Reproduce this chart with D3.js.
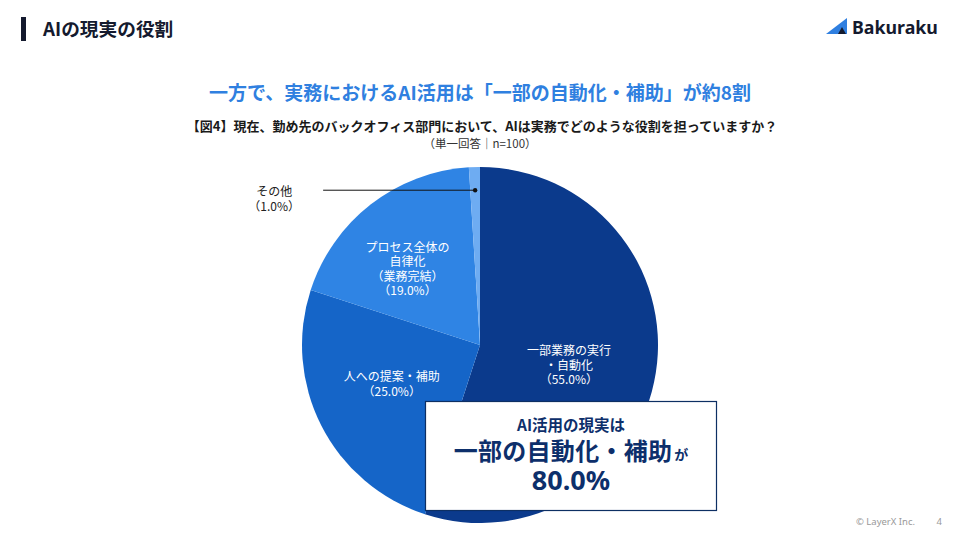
<!DOCTYPE html>
<html><head><meta charset="utf-8">
<script src="https://cdn.jsdelivr.net/npm/d3@7"></script>
<style>
html,body{margin:0;padding:0;background:#fff;}
svg{display:block;font-family:"Noto Sans CJK JP","Noto Sans",sans-serif;}
</style></head>
<body>
<svg id="c" width="960" height="540"></svg>
<script>
// ---- data ----
const categories = ["一部業務の実行・自動化", "人への提案・補助", "プロセス全体の自律化（業務完結）", "その他"];
const values = [55.0, 25.0, 19.0, 1.0];
const labelLines = [
  ["一部業務の実行", "・自動化"],
  ["人への提案・補助"],
  ["プロセス全体の", "自律化", "（業務完結）"],
  ["その他"]
];
const pageTitle = "AIの現実の役割";
const headline = "一方で、実務におけるAI活用は「一部の自動化・補助」が約8割";
const question = "【図4】現在、勤め先のバックオフィス部門において、AIは実務でどのような役割を担っていますか？";
const note = "（単一回答｜n=100）";
const calloutLine1 = "AI活用の現実は";
const calloutMain = "一部の自動化・補助";
const calloutSuffix = "が";
const calloutValue = "80.0%";

// ---- styles / layout ----
const colors = ["#0b3a8c", "#1565c8", "#2f84e4", "#6eacf2"];
const labelOffsets = [[1, 7], [-9, -1], [-18, -5], [0, 0]];
const lineHeights = [14.5, 14.5, 14.5, 15];
const svg = d3.select("#c");
const cx = 480, cy = 345, R = 178;

// header
svg.append("rect").attr("x", 21).attr("y", 17).attr("width", 5).attr("height", 24).attr("fill", "#141a2e");
svg.append("text").attr("x", 43).attr("y", 36).attr("font-size", 18.7).attr("font-weight", 700)
  .attr("fill", "#141a2e").text(pageTitle);

// logo
const logo = svg.append("g");
logo.append("path").attr("d", "M826,34 L847,18 L847,34 Z").attr("fill", "#2f7fe0");
logo.append("path").attr("d", "M838,34 L842,27 L846,34 Z").attr("fill", "#141a2e");
logo.append("text").attr("x", 852).attr("y", 34).attr("font-size", 17.8).attr("font-weight", 700)
  .attr("font-family", "'Noto Sans',sans-serif").attr("fill", "#141a2e").text("Bakuraku");

// titles
svg.append("text").attr("x", 480).attr("y", 100).attr("text-anchor", "middle").attr("font-size", 19)
  .attr("font-weight", 700).attr("fill", "#2f80e0").text(headline);
svg.append("text").attr("x", 482).attr("y", 131).attr("text-anchor", "middle").attr("font-size", 13)
  .attr("font-weight", 700).attr("fill", "#1a1a1a").text(question);
svg.append("text").attr("x", 480).attr("y", 148).attr("text-anchor", "middle").attr("font-size", 11.5)
  .attr("fill", "#333").text(note);

// pie
const pie = d3.pie().sort(null).value(d => d)(values);
const arc = d3.arc().innerRadius(0).outerRadius(R);
const labelArc = d3.arc().innerRadius(R * 0.5).outerRadius(R * 0.5);
const g = svg.append("g").attr("transform", `translate(${cx},${cy})`);
g.selectAll("path.s").data(pie).join("path").attr("class", "s")
  .attr("d", arc).attr("fill", (d, i) => colors[i]);

// in-slice labels
pie.forEach((d, i) => {
  if (i === 3) return;
  const [x, y] = labelArc.centroid(d);
  const lines = labelLines[i].concat([`（${values[i].toFixed(1)}%）`]);
  const lh = lineHeights[i];
  const t = g.append("text").attr("text-anchor", "middle").attr("font-size", 12).attr("fill", "#fff");
  lines.forEach((ln, k) => {
    t.append("tspan").attr("x", x + labelOffsets[i][0])
      .attr("y", y + labelOffsets[i][1] + (k - (lines.length - 1) / 2) * lh + 4).text(ln);
  });
});

// "その他" leader
const small = pie[3];
const pt = d3.arc().innerRadius(R * 0.87).outerRadius(R * 0.87).centroid(small);
g.append("line").attr("x1", pt[0]).attr("y1", pt[1]).attr("x2", pt[0] - 152).attr("y2", pt[1])
  .attr("stroke", "#111").attr("stroke-width", 1);
g.append("circle").attr("cx", pt[0]).attr("cy", pt[1]).attr("r", 2.2).attr("fill", "#111");
const ot = g.append("text").attr("text-anchor", "middle").attr("font-size", 12).attr("fill", "#222");
ot.append("tspan").attr("x", pt[0] - 201).attr("y", pt[1] + 6).text(labelLines[3][0]);
ot.append("tspan").attr("x", pt[0] - 201).attr("y", pt[1] + 21).text(`（${values[3].toFixed(1)}%）`);

// callout box
svg.append("rect").attr("x", 425.5).attr("y", 401.5).attr("width", 291).attr("height", 109)
  .attr("fill", "#fff").attr("stroke", "#0d2f63").attr("stroke-width", 1.2);
const navy = "#0d2f6b";
svg.append("text").attr("x", 571).attr("y", 431).attr("text-anchor", "middle").attr("font-size", 15.5)
  .attr("font-weight", 700).attr("fill", navy).text(calloutLine1);
const mt = svg.append("text").attr("x", 571).attr("y", 460).attr("text-anchor", "middle")
  .attr("font-weight", 700).attr("fill", navy);
mt.append("tspan").attr("font-size", 24).attr("letter-spacing", 0.3).text(calloutMain);
mt.append("tspan").attr("font-size", 14).attr("dx", 2).text(calloutSuffix);
svg.append("text").attr("x", 571).attr("y", 490).attr("text-anchor", "middle").attr("font-size", 27)
  .attr("font-weight", 700).attr("font-family", "'Noto Sans',sans-serif").attr("fill", navy).text(calloutValue);

// footer
svg.append("text").attr("x", 915).attr("y", 525).attr("text-anchor", "end").attr("font-size", 9.5)
  .attr("fill", "#999").attr("font-family", "'Noto Sans',sans-serif").text("© LayerX Inc.");
svg.append("text").attr("x", 942).attr("y", 525).attr("text-anchor", "end").attr("font-size", 9.5)
  .attr("fill", "#999").attr("font-family", "'Noto Sans',sans-serif").text("4");
</script>
</body></html>
